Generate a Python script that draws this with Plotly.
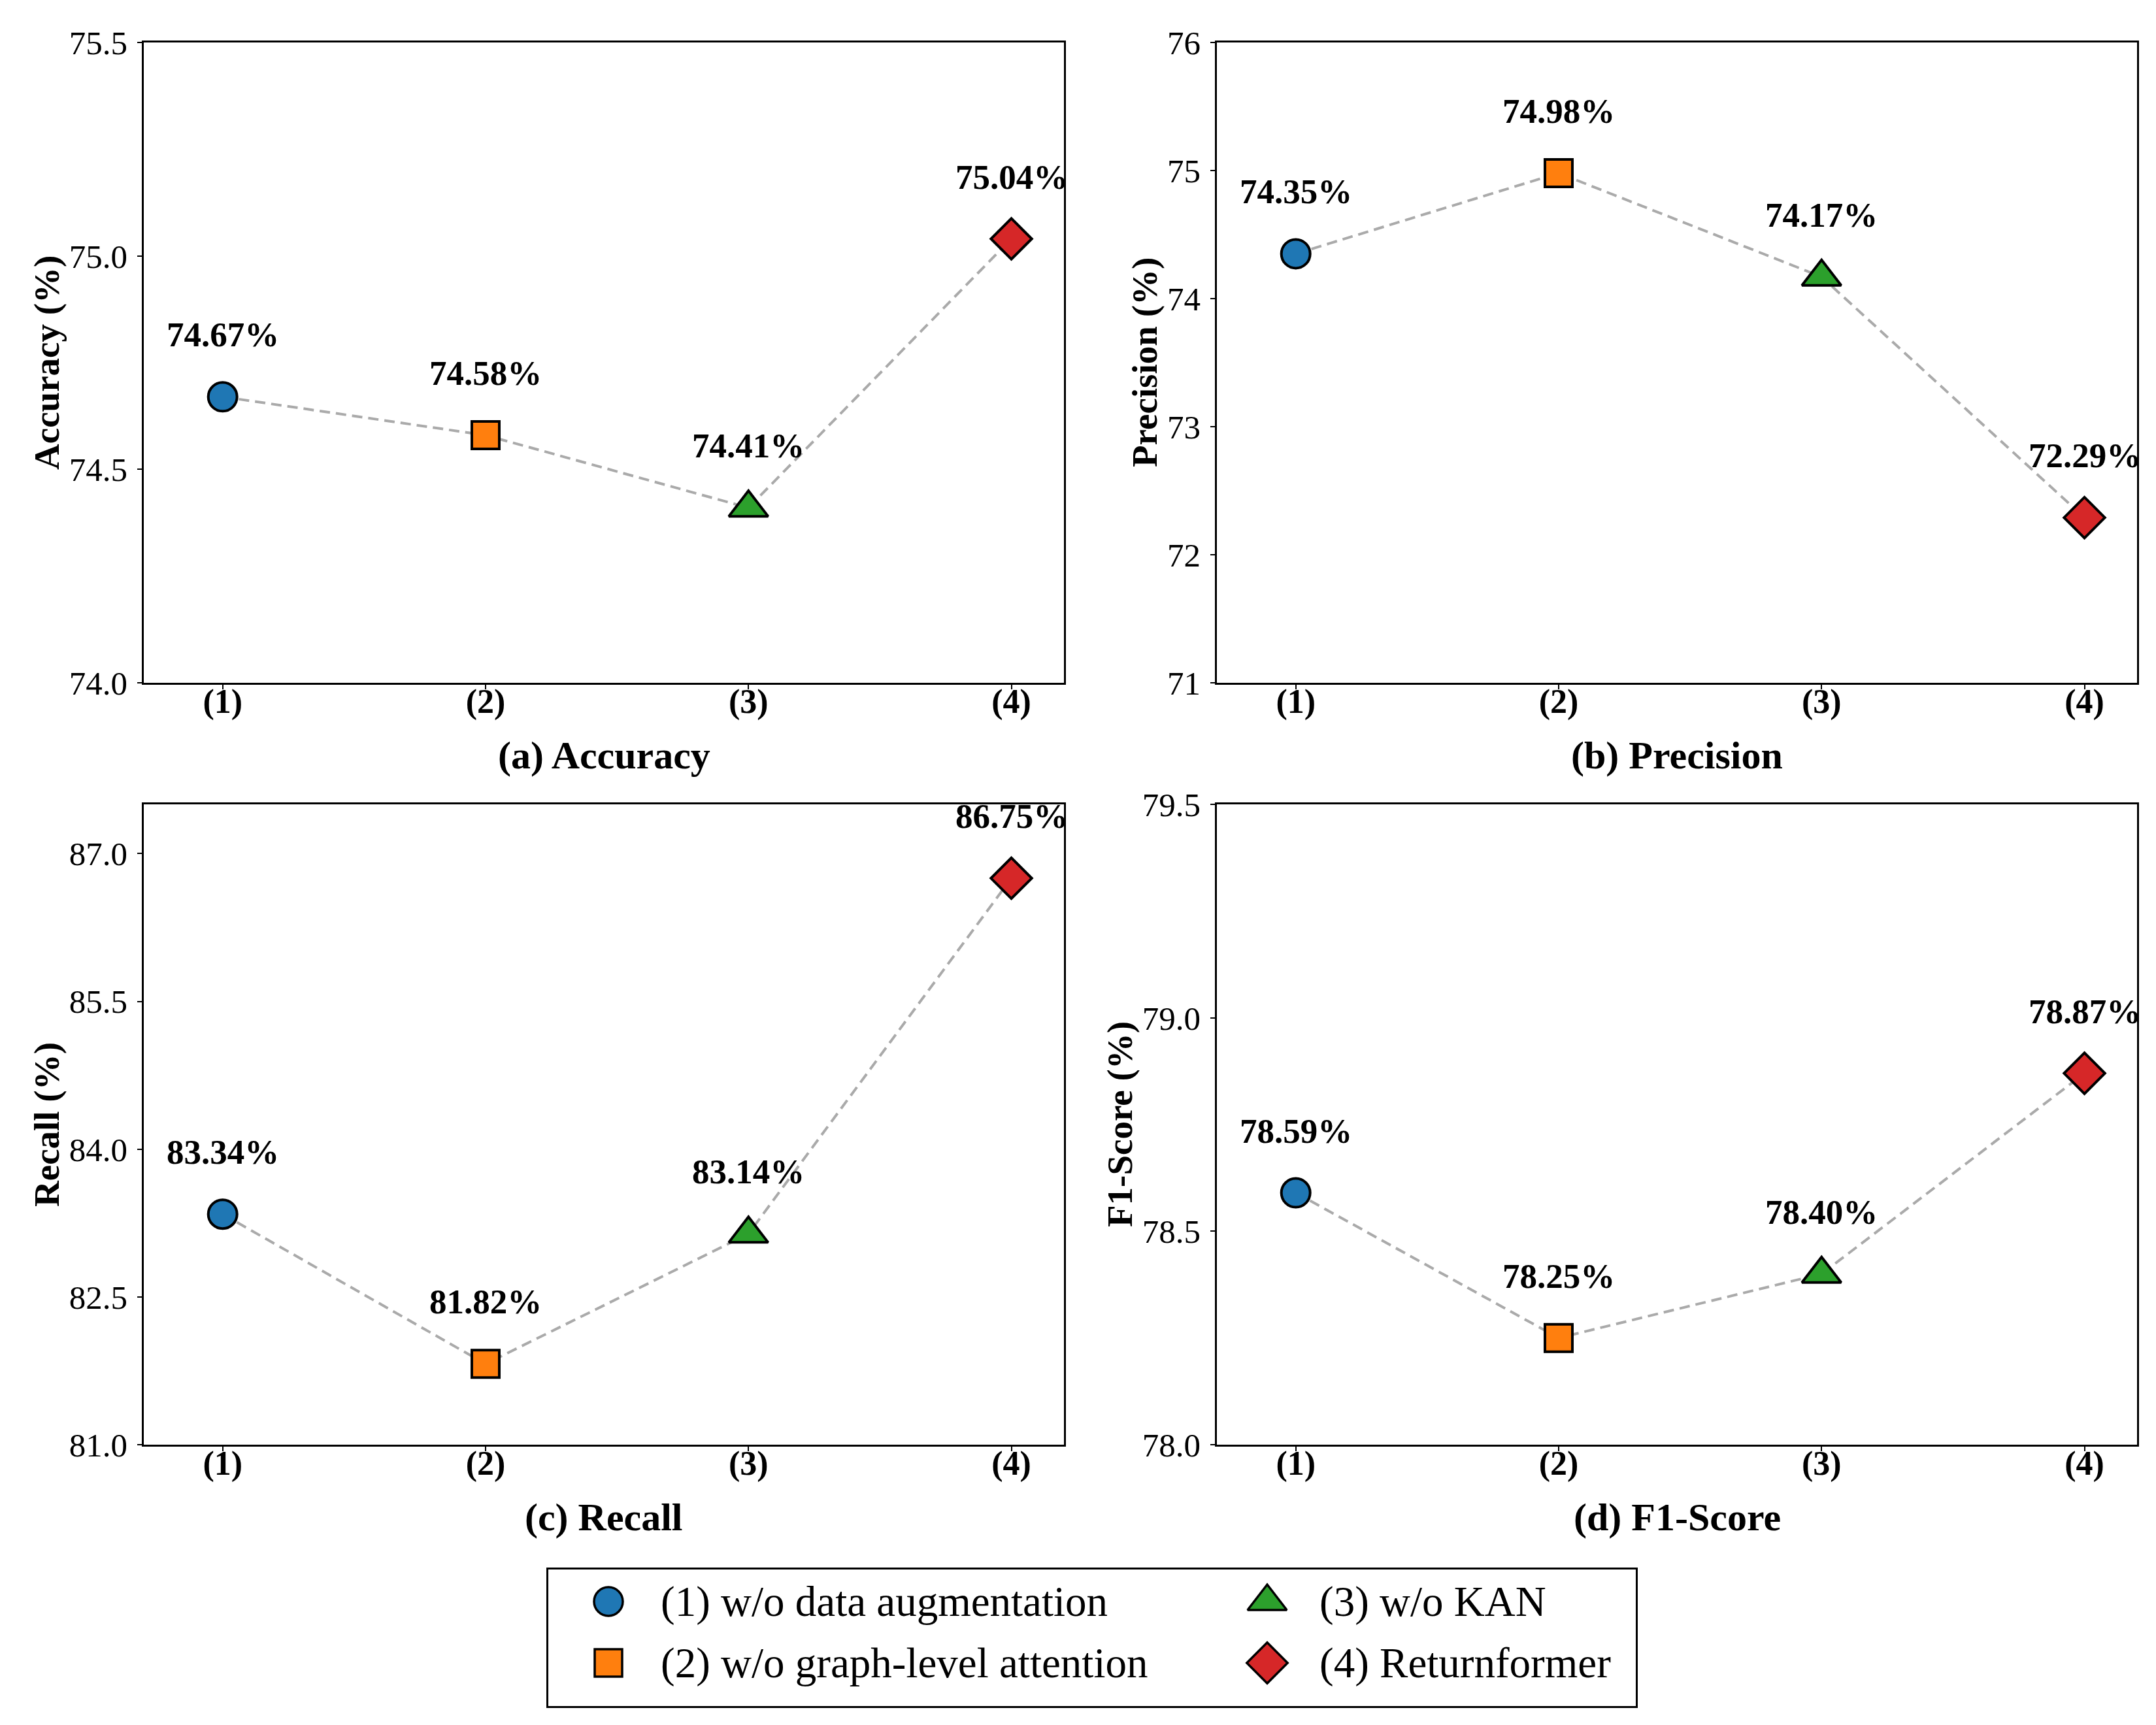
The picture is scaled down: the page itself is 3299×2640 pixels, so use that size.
import plotly.graph_objects as go

W, H = 3299, 2640
FONT = "Liberation Serif"

# ablation results (%)
tick_labels = ["(1)", "(2)", "(3)", "(4)"]
methods = ["(1) w/o data augmentation", "(2) w/o graph-level attention",
           "(3) w/o KAN", "(4) Returnformer"]
accuracy = [74.67, 74.58, 74.41, 75.04]
precision = [74.35, 74.98, 74.17, 72.29]
recall = [83.34, 81.82, 83.14, 86.75]
f1_score = [78.59, 78.25, 78.40, 78.87]

colors = ["#1f77b4", "#ff7f0e", "#2ca02c", "#d62728"]
symbols = ["circle", "square", "triangle-up", "diamond"]
msizes = [44, 42, 52, 48]

# name, caption, values, y range, tick step, tick format, box (left, top px), ylabel x px
panels = [
    ("Accuracy (%)", "(a) Accuracy", accuracy, [74.0, 75.5], 0.5, ".1f", (212, 57), 64),
    ("Precision (%)", "(b) Precision", precision, [71, 76], 1, "d", (1854, 57), 1744),
    ("Recall (%)", "(c) Recall", recall, [81.0, 87.5], 1.5, ".1f", (212, 1223), 64),
    ("F1-Score (%)", "(d) F1-Score", f1_score, [78.0, 79.5], 0.5, ".1f", (1854, 1223), 1706),
]
BW, BH = 1408, 980


def px(x):
    return x / W


def py(y):
    return 1 - y / H


fig = go.Figure()
annotations = []
xs = list(range(len(tick_labels)))

for i, (ytitle, caption, vals, yr, dt, fmt, (left, top), ylx) in enumerate(panels):
    s = "" if i == 0 else str(i + 1)
    xa, ya = "x" + s, "y" + s
    fig.add_trace(go.Scatter(
        x=xs, y=vals, mode="lines", xaxis=xa, yaxis=ya, showlegend=False,
        line=dict(color="#aaaaaa", width=4, dash="16px,9px"), hoverinfo="skip"))
    fig.add_trace(go.Scatter(
        x=xs, y=vals, mode="markers", xaxis=xa, yaxis=ya, showlegend=False,
        cliponaxis=False,
        marker=dict(symbol=symbols, color=colors, size=msizes, opacity=1,
                    line=dict(color="black", width=4))))

    axis_common = dict(showline=True, mirror=True, linecolor="black", linewidth=2.5,
                       ticks="outside", ticklen=7, tickwidth=2, tickcolor="black",
                       showgrid=False, zeroline=False)
    fig.layout["xaxis" + s] = dict(
        domain=[px(left), px(left + BW)], anchor=ya, range=[-0.3, 3.2],
        tickvals=xs, ticktext=tick_labels, ticklabelstandoff=-26,
        tickfont=dict(family=FONT, size=52, color="black", weight="bold"), **axis_common)
    fig.layout["yaxis" + s] = dict(
        domain=[py(top + BH), py(top)], anchor=xa, range=yr, dtick=dt, tick0=yr[0],
        tickformat=fmt, ticklabelstandoff=5,
        tickfont=dict(family=FONT, size=51, color="black"), **axis_common)

    for x, v in zip(xs, vals):
        annotations.append(dict(
            x=x, y=v, xref=xa, yref=ya, text="<b>%.2f%%</b>" % v, showarrow=False,
            yshift=95, xanchor="center", yanchor="middle",
            font=dict(family=FONT, size=53, color="black")))

    annotations.append(dict(
        x=px(left + BW / 2), y=py(top + BH + 111), xref="paper", yref="paper",
        text="<b>%s</b>" % caption, showarrow=False, xanchor="center", yanchor="middle",
        font=dict(family=FONT, size=60, color="black")))
    annotations.append(dict(
        x=px(ylx), y=py(top + BH / 2), xref="paper", yref="paper", textangle=-90,
        text="<b>%s</b>" % ytitle, showarrow=False, xanchor="center", yanchor="middle",
        font=dict(family=FONT, size=55, color="black")))

# legend key drawn on a helper axis (2 columns x 2 rows)
leg_col = [i // 2 for i in range(len(methods))]
leg_row = [i % 2 for i in range(len(methods))]
fig.add_trace(go.Scatter(
    x=leg_col, y=leg_row, mode="markers", xaxis="x5", yaxis="y5", showlegend=False,
    cliponaxis=False, hoverinfo="skip",
    marker=dict(symbol=symbols, color=colors, size=msizes, opacity=1,
                line=dict(color="black", width=3.5))))
for c, r, name in zip(leg_col, leg_row, methods):
    annotations.append(dict(
        x=c, y=r, xref="x5", yref="y5", text=name, showarrow=False,
        xanchor="left", yanchor="middle", xshift=78,
        font=dict(family=FONT, size=65, color="black")))

hidden = dict(showline=True, mirror=True, linecolor="black", linewidth=2.5,
              showticklabels=False, ticks="", showgrid=False, zeroline=False)
fig.layout["xaxis5"] = dict(domain=[px(831), px(2495)], anchor="y5",
                            range=[(831 - 923) / 1008, (2495 - 923) / 1008], **hidden)
fig.layout["yaxis5"] = dict(domain=[py(2603), py(2394)], anchor="x5",
                            range=[1 + 66 / 94, -49 / 94], **hidden)

fig.update_layout(
    width=W, height=H, margin=dict(l=0, r=0, t=0, b=0, autoexpand=False),
    plot_bgcolor="white", paper_bgcolor="white",
    font=dict(family=FONT, color="black"),
    annotations=annotations, showlegend=False)

fig.write_html("out.html")
